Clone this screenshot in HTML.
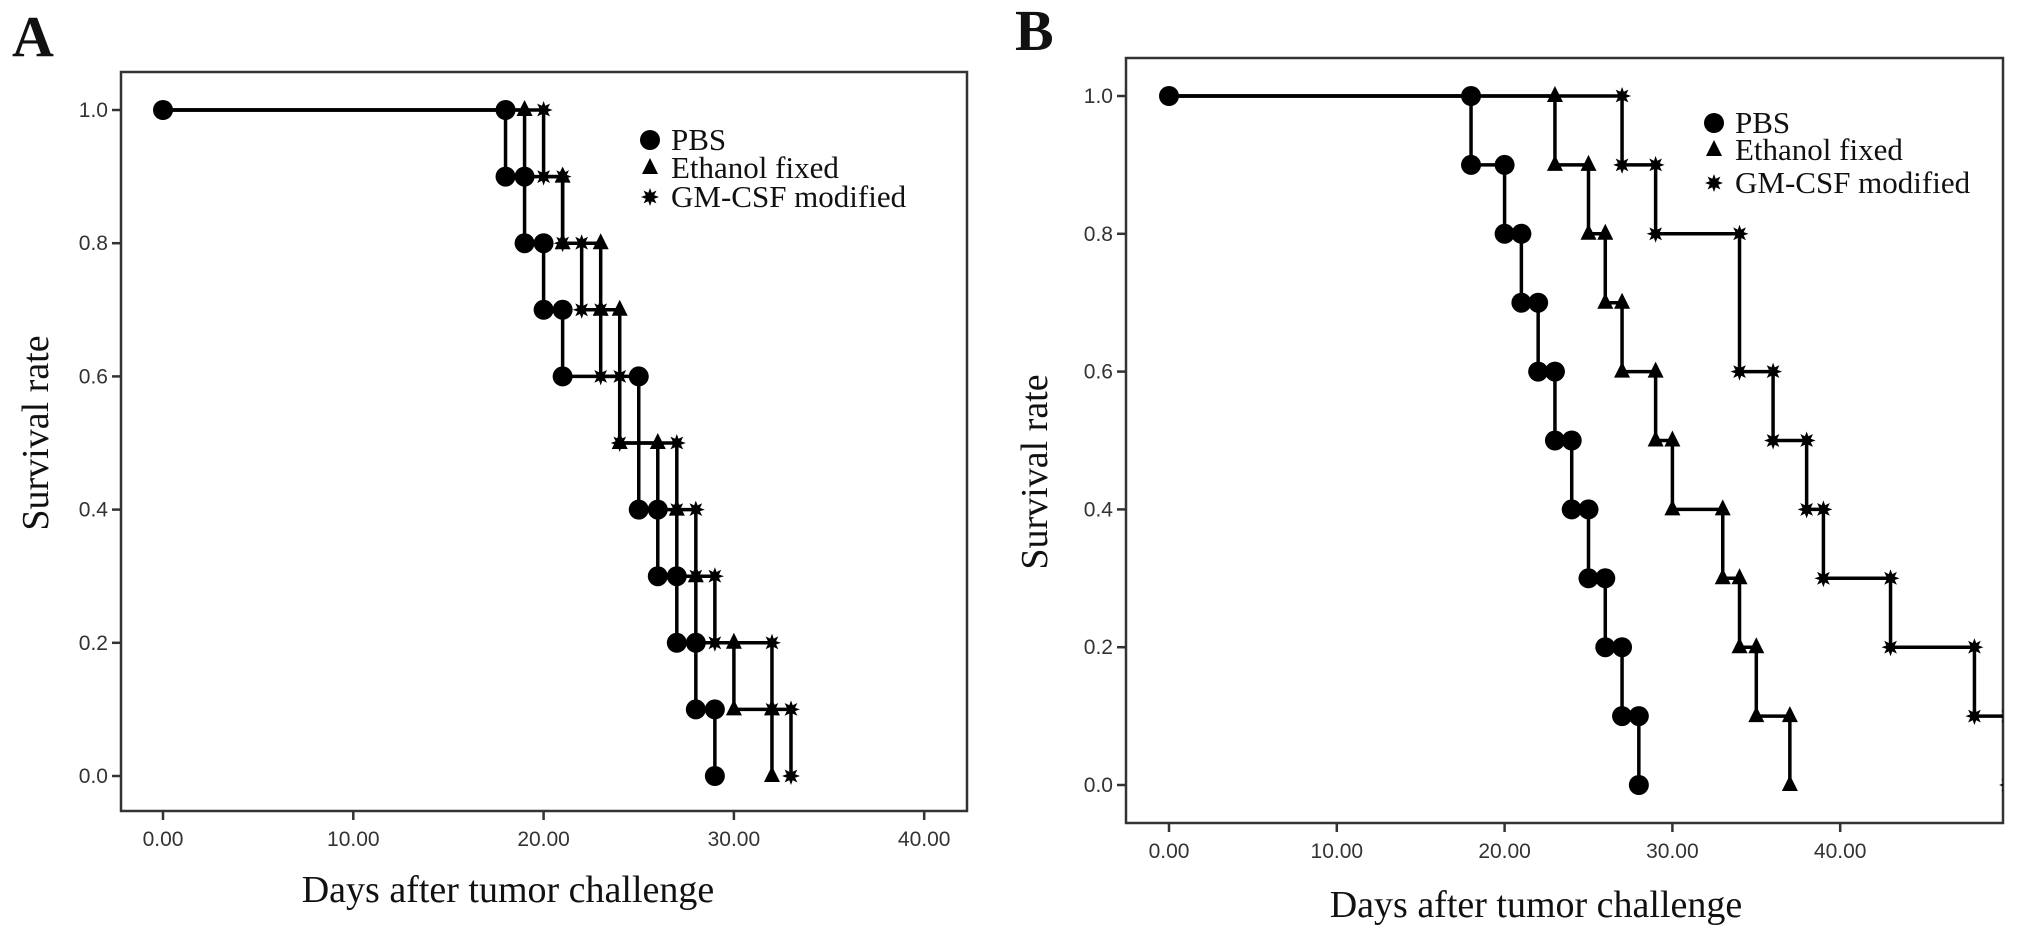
<!DOCTYPE html>
<html><head><meta charset="utf-8"><style>
html,body{margin:0;padding:0;background:#fff;}
svg{display:block;}
.tick{font-family:"Liberation Sans",Arial,sans-serif;font-size:21px;fill:#333;}
.ser{font-family:"Liberation Serif","Times New Roman",serif;fill:#111;}
</style></head><body>
<svg id="fig" width="2031" height="946" viewBox="0 0 2031 946" xmlns="http://www.w3.org/2000/svg"></svg>
<script>
// ---- data ----
const yTicks = [0.0, 0.2, 0.4, 0.6, 0.8, 1.0];
const xTicks = [0, 10, 20, 30, 40];
const seriesNames = ["PBS", "Ethanol fixed", "GM-CSF modified"];
// Panel A: event days and survival after each event
const aPbsDays = [18,19,20,21,25,26,27,28,29];
const aPbsSurv = [0.9,0.8,0.7,0.6,0.4,0.3,0.2,0.1,0.0];
const aEthDays = [19,21,23,24,26,27,28,30,32];
const aEthSurv = [0.9,0.8,0.7,0.5,0.4,0.3,0.2,0.1,0.0];
const aGmDays = [20,21,22,23,24,27,28,29,32,33];
const aGmSurv = [0.9,0.8,0.7,0.6,0.5,0.4,0.3,0.2,0.1,0.0];
// Panel B
const bPbsDays = [18,20,21,22,23,24,25,26,27,28];
const bPbsSurv = [0.9,0.8,0.7,0.6,0.5,0.4,0.3,0.2,0.1,0.0];
const bEthDays = [23,25,26,27,29,30,33,34,35,37];
const bEthSurv = [0.9,0.8,0.7,0.6,0.5,0.4,0.3,0.2,0.1,0.0];
const bGmDays = [27,29,34,36,38,39,43,48,50];
const bGmSurv = [0.9,0.8,0.6,0.5,0.4,0.3,0.2,0.1,0.0];

const NS="http://www.w3.org/2000/svg";
const svg=document.getElementById('fig');
function mk(tag,attrs,parent){const e=document.createElementNS(NS,tag);for(const k in attrs)e.setAttribute(k,attrs[k]);(parent||svg).appendChild(e);return e;}

function marker(g,type,x,y){
  let e;
  if(type===0){e=mk('circle',{cx:x,cy:y,r:10,fill:'#000'},g);}
  else if(type===1){e=mk('polygon',{points:`${x},${y-10} ${x+8},${y+6} ${x-8},${y+6}`,fill:'#000'},g);}
  else{let p=[];for(let i=0;i<16;i++){const a=Math.PI*i/8;const r=i%2?4.5:9;p.push((x+r*Math.sin(a)).toFixed(1)+','+(y-r*Math.cos(a)).toFixed(1));}
    e=mk('polygon',{points:p.join(' '),fill:'#000'},g);}
  
  
}

function panel(cfg){
  const P=mk('g',{});
  
  
  const X=d=>cfg.x0+d*cfg.xs, Y=v=>cfg.y0-(cfg.y0-cfg.y1)*v;
  const L=mk('text',{x:cfg.lx,y:cfg.ly,class:'ser','font-size':58,'font-weight':'bold'},P);L.textContent=cfg.letter;
  
  const cid='clip'+cfg.letter;
  const cp=mk('clipPath',{id:cid},P);mk('rect',{x:cfg.bl,y:cfg.bt,width:cfg.br-cfg.bl,height:cfg.bb-cfg.bt},cp);
  const box=mk('rect',{x:cfg.bl,y:cfg.bt,width:cfg.br-cfg.bl,height:cfg.bb-cfg.bt,fill:'none',stroke:'#333','stroke-width':2.5},P);
  
  yTicks.forEach(v=>{mk('line',{x1:cfg.bl-9,x2:cfg.bl,y1:Y(v),y2:Y(v),stroke:'#333','stroke-width':2.5},P);
    const t=mk('text',{x:cfg.bl-13,y:Y(v)+7,class:'tick','text-anchor':'end'},P);t.textContent=v.toFixed(1);
    });
  xTicks.forEach(v=>{mk('line',{x1:X(v),x2:X(v),y1:cfg.bb,y2:cfg.bb+9,stroke:'#333','stroke-width':2.5},P);
    const t=mk('text',{x:X(v),y:cfg.bb+35,class:'tick','text-anchor':'middle'},P);t.textContent=v.toFixed(2);
    });
  const xt=mk('text',{x:cfg.xtx,y:cfg.xty,class:'ser','font-size':38,'text-anchor':'middle'},P);xt.textContent='Days after tumor challenge';
  
  const yt=mk('text',{x:0,y:0,class:'ser','font-size':38,'text-anchor':'middle',transform:`translate(${cfg.ytx},${cfg.yty}) rotate(-90)`},P);yt.textContent='Survival rate';
  
  const G=mk('g',{'clip-path':`url(#${cid})`},P);
  cfg.series.forEach((s,si)=>{
    const days=s[0],surv=s[1];
    let d=`M${X(0)},${Y(1)}`;let prev=1;
    days.forEach((dd,i)=>{d+=` L${X(dd)},${Y(prev)} L${X(dd)},${Y(surv[i])}`;prev=surv[i];});
    const pth=mk('path',{d:d,fill:'none',stroke:'#000','stroke-width':3.5},G);
    
    
    marker(G,si,X(0),Y(1));
    prev=1;
    days.forEach((dd,i)=>{marker(G,si,X(dd),Y(prev));marker(G,si,X(dd),Y(surv[i]));prev=surv[i];});
  });
  seriesNames.forEach((n,i)=>{
    const lg=mk('g',{},P);
    marker(lg,i,cfg.legx,cfg.legy[i]);
    const t=mk('text',{x:cfg.legx+21,y:cfg.legy[i]+10,class:'ser','font-size':31},lg);t.textContent=n;
  });
}

panel({name:'panel-a',letter:'A',lx:12,ly:56,bl:121,br:967,bt:72,bb:811,x0:163,xs:19.03,y0:776,y1:110,
  xtx:508,xty:902,ytx:48,yty:433,legx:650,legy:[140,168,197],
  series:[[aPbsDays,aPbsSurv],[aEthDays,aEthSurv],[aGmDays,aGmSurv]]});
panel({name:'panel-b',letter:'B',lx:1015,ly:50,bl:1126,br:2003,bt:58,bb:823,x0:1169,xs:16.78,y0:785,y1:96,
  xtx:1536,xty:917,ytx:1047,yty:472,legx:1714,legy:[123,150,183],
  series:[[bPbsDays,bPbsSurv],[bEthDays,bEthSurv],[bGmDays,bGmSurv]]});
</script>
</body></html>
